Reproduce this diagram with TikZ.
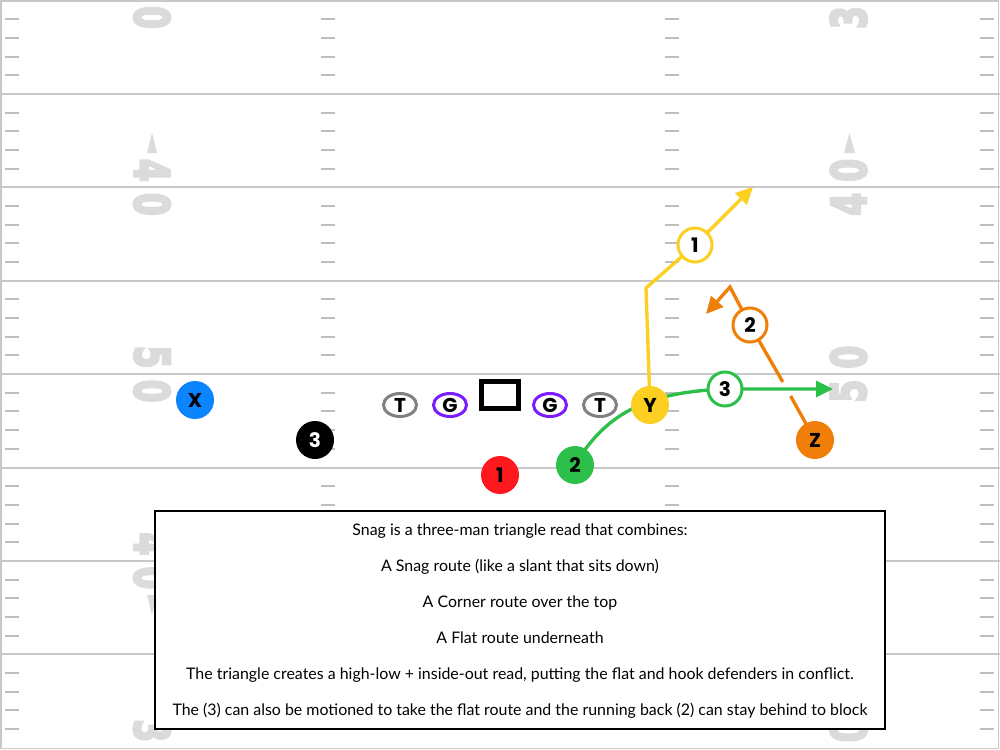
\documentclass[tikz,border=0pt]{standalone}
\usepackage{fontspec}
\usetikzlibrary{arrows.meta,shapes.geometric}
\setmainfont{Lato}
\newfontfamily\pfont{Poppins}
\newfontfamily\numfont{DejaVu Sans}[BoldFeatures={FakeBold=6}]
\definecolor{xblue}{RGB}{10,132,255}
\definecolor{yel}{RGB}{252,207,32}
\definecolor{redp}{RGB}{255,24,30}
\definecolor{grn}{RGB}{44,192,74}
\definecolor{org}{RGB}{240,127,10}
\definecolor{purp}{RGB}{122,28,255}
\definecolor{tgray}{RGB}{128,128,128}
\definecolor{yardgray}{RGB}{200,200,200}
\definecolor{hashgray}{RGB}{190,190,190}
\definecolor{numgray}{RGB}{219,219,219}
\pgfdeclarelayer{field}
\pgfdeclarelayer{routes}
\pgfsetlayers{field,routes,main}
\newlength\linelen
\newcommand{\ydig}[1]{\scalebox{0.68}[1]{#1}}
\begin{document}
\settowidth\linelen{\fontsize{10pt}{12pt}\selectfont The (3) can also be motioned to take the flat route and the running back (2) can stay behind to block}%
\pgfmathsetmacro\textfs{10*521.25/\linelen}%
\begin{tikzpicture}[x=0.75pt,y=-0.75pt,
  yardline/.style={draw=yardgray,line width=1.5pt},
  hashmark/.style={draw=hashgray,line width=1.5pt},
  yardnum/.style={inner sep=0pt,text=numgray,font=\numfont\bfseries\fontsize{36}{36}\selectfont},
  player/.style={circle,minimum size=38*0.75pt,inner sep=0pt,font=\pfont\bfseries\fontsize{15}{15}\selectfont},
  lineman/.style={ellipse,fill=white,line width=2.25pt,minimum width=33*0.75pt,minimum height=23*0.75pt,inner sep=0pt,font=\pfont\bfseries\fontsize{15}{15}\selectfont},
  marker/.style={circle,fill=white,line width=2.25pt,minimum size=34*0.75pt,inner sep=0pt,font=\pfont\bfseries\fontsize{15}{15}\selectfont},
  route/.style={line width=2.5pt},
  tip/.style={-{Triangle[length=12.75pt,width=12pt]}},
  boxtext/.style={anchor=base,inner sep=0pt,font=\fontsize{\textfs}{\textfs}\selectfont}]
\useasboundingbox (0,0) rectangle (1000,750);
\begin{pgfonlayer}{field}
\fill[white] (0,0) rectangle (1000,750);
\foreach \k in {1,...,7} \draw[yardline] (0,0.5+93.4*\k) -- (1000,0.5+93.4*\k);
\foreach \m in {1,...,39} {
  \pgfmathtruncatemacro\r{mod(\m,5)}
  \ifnum\r>0
    \draw[hashmark] (5,0.5+18.68*\m) -- (19,0.5+18.68*\m);
    \draw[hashmark] (321,0.5+18.68*\m) -- (335,0.5+18.68*\m);
    \draw[hashmark] (665,0.5+18.68*\m) -- (679,0.5+18.68*\m);
    \draw[hashmark] (980,0.5+18.68*\m) -- (994,0.5+18.68*\m);
  \fi
}
\draw[draw=yardgray,line width=1.2pt] (1,1) rectangle (998.5,748.5);
% left numbers (read top to bottom)
\node[yardnum,rotate=-90] (la0) at (152,17.5) {\ydig{0}};
\node[yardnum,rotate=-90] (lb4) at (152,170.3) {\ydig{4}};
\node[yardnum,rotate=-90] (lb0) at (152,204.3) {\ydig{0}};
\node[yardnum,rotate=-90] (lc5) at (152,357.1) {\ydig{5}};
\node[yardnum,rotate=-90] (lc0) at (152,391.1) {\ydig{0}};
\node[yardnum,rotate=-90] (ld4) at (152,543.9) {\ydig{4}};
\node[yardnum,rotate=-90] (ld0) at (152,577.9) {\ydig{0}};
\node[yardnum,rotate=-90] (le3) at (152,730.7) {\ydig{3}};
% right numbers (read bottom to top)
\node[yardnum,rotate=90] (ra3) at (848.5,17.5) {\ydig{3}};
\node[yardnum,rotate=90] (rb0) at (848.5,170.3) {\ydig{0}};
\node[yardnum,rotate=90] (rb4) at (848.5,204.3) {\ydig{4}};
\node[yardnum,rotate=90] (rc0) at (848.5,357.1) {\ydig{0}};
\node[yardnum,rotate=90] (rc5) at (848.5,391.1) {\ydig{5}};
\node[yardnum,rotate=90] (rd0) at (848.5,543.9) {\ydig{0}};
\node[yardnum,rotate=90] (rd4) at (848.5,577.9) {\ydig{4}};
\node[yardnum,rotate=90] (re0) at (848.5,730.7) {\ydig{0}};
% direction arrows
\fill[numgray] (147,153) -- (152,133) -- (157,153) -- cycle;
\fill[numgray] (844,153) -- (849.5,133) -- (855,153) -- cycle;
\fill[numgray] (147,595) -- (152,615) -- (157,595) -- cycle;
\end{pgfonlayer}
% players
\node[player,fill=xblue] (X) at (195,400) {X};
\node[player,fill=black,text=white] (P3) at (315,440) {3};
\node[lineman,draw=tgray] (LT) at (400,405) {T};
\node[lineman,draw=purp] (LG) at (450,405) {G};
\node[draw=black,fill=white,line width=3.75pt,minimum width=37*0.75pt,minimum height=27*0.75pt,inner sep=0pt] (C) at (500,395) {};
\node[lineman,draw=purp] (RG) at (550,405) {G};
\node[lineman,draw=tgray] (RT) at (600,405) {T};
\node[player,fill=yel] (Y) at (650,405) {Y};
\node[player,fill=redp] (P1) at (500,475) {1};
\node[player,fill=grn] (P2) at (575,465) {2};
\node[player,fill=org] (Z) at (815,440) {Z};
% route markers
\node[marker,draw=yel] (r1) at (695,245) {1};
\node[marker,draw=org] (r2) at (750,325) {2};
\node[marker,draw=grn] (r3) at (725,389) {3};
% route coordinates
\coordinate (ybend) at (646,288);
\coordinate (ytip) at (753,187);
\coordinate (gtip) at (833,389);
\coordinate (ogap1) at (790.6,396);
\coordinate (ogap2) at (782.8,382);
\coordinate (obend) at (730,287);
\coordinate (otip) at (706,314);
\begin{pgfonlayer}{routes}
\draw[route,yel,tip] (Y.center) -- (ybend) -- (r1.center) -- (ytip);
\draw[route,grn,tip] (P2.center) .. controls (610,405) and (660,392) .. (r3.center) -- (gtip);
\draw[route,org] (Z.center) -- (ogap1);
\draw[route,org,tip] (ogap2) -- (r2.center) -- (obend) -- (otip);
\end{pgfonlayer}
% info box
\node[draw=black,fill=white,line width=1.5pt,minimum width=730*0.75pt,minimum height=218*0.75pt,inner sep=0pt] (infobox) at (520,620) {};
\node[boxtext] (t1) at (520,535.7) {Snag is a three-man triangle read that combines:};
\node[boxtext] (t2) at (520,571.6) {A Snag route (like a slant that sits down)};
\node[boxtext] (t3) at (520,607.4) {A Corner route over the top};
\node[boxtext] (t4) at (520,643.3) {A Flat route underneath};
\node[boxtext] (t5) at (520,679.1) {The triangle creates a high-low + inside-out read, putting the flat and hook defenders in conflict.};
\node[boxtext] (t6) at (520,715) {The (3) can also be motioned to take the flat route and the running back (2) can stay behind to block};
\end{tikzpicture}
\end{document}
